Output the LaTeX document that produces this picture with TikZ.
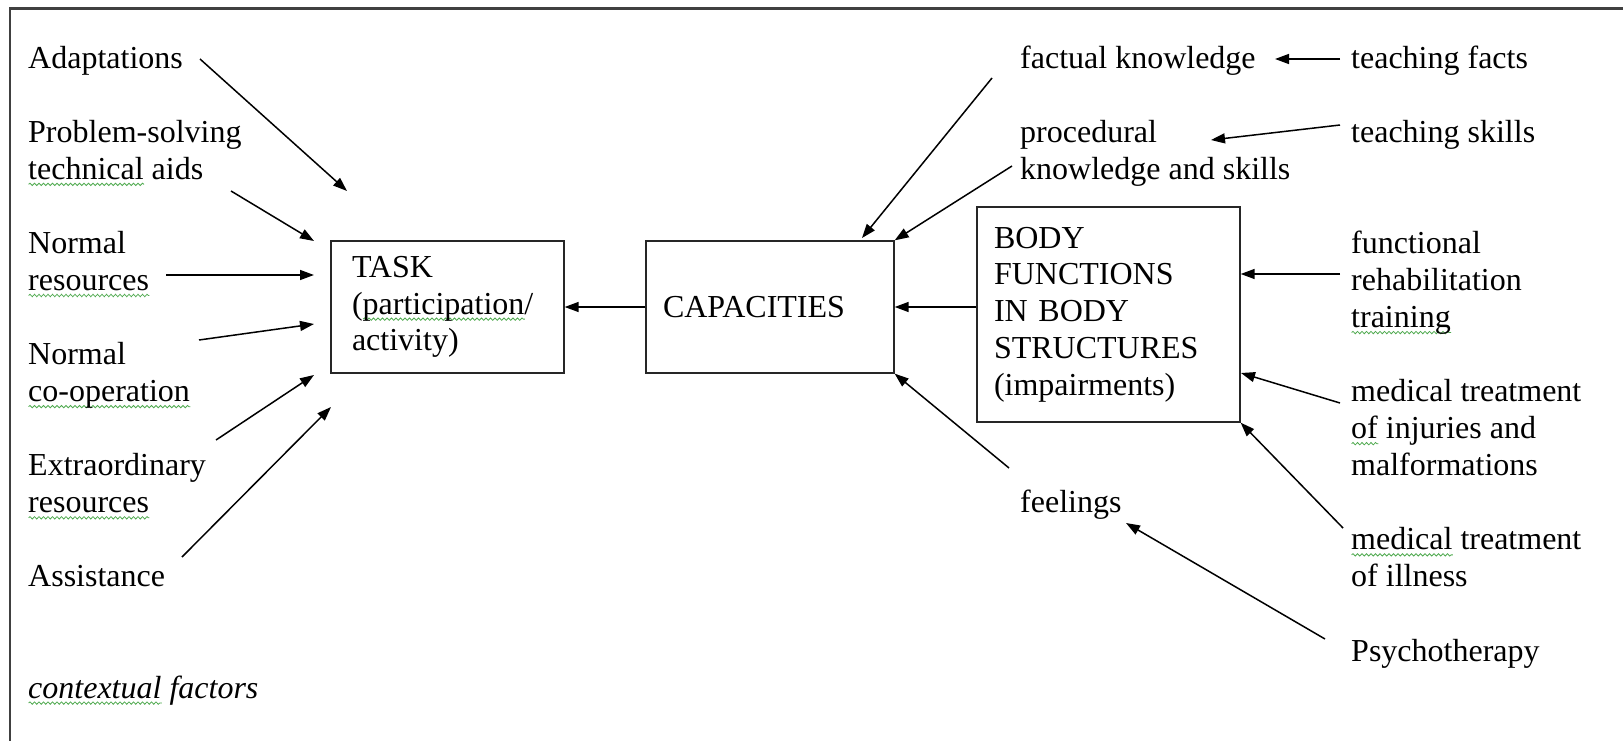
\documentclass[tikz,border=0pt]{standalone}
\usepackage{fontspec}
\setmainfont{Liberation Serif}
\usetikzlibrary{arrows.meta,decorations.pathmorphing,calc}
\newlength\wvlen
\newcommand\wv[1]{\settowidth\wvlen{#1}\rlap{\smash{\tikz[baseline=0pt]\draw[spell] (0pt,-5pt) -- (\wvlen,-5pt);}}#1}
\newcommand\fst{\rule{0pt}{26pt}}
\definecolor{spellgreen}{RGB}{80,170,80}
\tikzset{
  spell/.style={draw=spellgreen, line width=0.8pt, decorate,
    decoration={snake, amplitude=1.2pt, segment length=4.5pt}},
  lbl/.style={anchor=north west, inner sep=0pt, align=left,
    font=\fontsize{32}{37.05}\selectfont},
  box/.style={draw=black!85, line width=1.3pt, inner ysep=0pt, align=left,
    font=\fontsize{32}{36.8}\selectfont},
  arr/.style={line width=1.5pt, -{Triangle[length=14pt,width=10pt]}},
  frame/.style={draw=black!75, line width=2.5pt},
}
\begin{document}
\begin{tikzpicture}[x=1pt,y=-1pt]
\useasboundingbox (0,0) rectangle (1623,741);
\draw[frame] (10,741) -- (10,8.5) -- (1623,8.5);

% boxes
\node[box, text width=191pt, inner xsep=21pt, minimum height=132pt] (task) at (447.5,307)
  {TASK\\(\wv{participation}/\\activity)};
\node[box, text width=214pt, inner xsep=17pt, minimum height=132pt] (cap) at (770,307)
  {CAPACITIES};
\node[box, text width=229pt, inner xsep=17pt, minimum height=215pt] (body) at (1108.5,314.5)
  {BODY\\FUNCTIONS\\IN BODY\\STRUCTURES\\(impairments)};

% left labels (baseline n = 68 + 37.05 n ; node top = baseline - 26)
\node[lbl] (adapt)  at (28,42)     {\fst Adaptations};
\node[lbl] (psolv)  at (28,116.1)  {\fst Problem-solving\\\wv{technical} aids};
\node[lbl] (nres)   at (28,227.25) {\fst Normal\\\wv{resources}};
\node[lbl] (ncoop)  at (28,338.4)  {\fst Normal\\\wv{co-operation}};
\node[lbl] (eres)   at (28,449.55) {\fst Extraordinary\\\wv{resources}};
\node[lbl] (assist) at (28,560.7)  {\fst Assistance};
\node[lbl] (ctx)    at (28,671.85) {\fst \wv{\textit{contextual}} \textit{factors}};

% middle labels
\node[lbl] (fact) at (1020,42)    {\fst factual knowledge};
\node[lbl] (proc) at (1020,116.1) {\fst procedural\\knowledge and skills};
\node[lbl] (feel) at (1020,486.6) {\fst feelings};

% right labels
\node[lbl] (tfacts)  at (1351,42)     {\fst teaching facts};
\node[lbl] (tskills) at (1351,116.1)  {\fst teaching skills};
\node[lbl] (func)    at (1351,227.25) {\fst functional\\rehabilitation\\\wv{training}};
\node[lbl] (medinj)  at (1351,375.45) {\fst medical treatment\\\wv{of} injuries and\\malformations};
\node[lbl] (medill)  at (1351,523.65) {\fst \wv{medical} treatment\\of illness};
\node[lbl] (psych)   at (1351,634.8)  {\fst Psychotherapy};

% free connector ends
\coordinate (a1s) at (200,59);   \coordinate (a1e) at (347,191);
\coordinate (a2s) at (231,191);  \coordinate (a2e) at (314,241);
\coordinate (a3s) at (166,275);  \coordinate (a3e) at (314,275);
\coordinate (a4s) at (199,340);  \coordinate (a4e) at (314,324);
\coordinate (a5s) at (216,440);  \coordinate (a5e) at (314,375);
\coordinate (a6s) at (182,557);  \coordinate (a6e) at (331,407);
\coordinate (r1s) at (992,78);   \coordinate (r1e) at (862,238);
\coordinate (r2s) at (1012,166);
\coordinate (r3s) at (1340,59);  \coordinate (r3e) at (1275,59);
\coordinate (r4s) at (1340,125); \coordinate (r4e) at (1211,140);
\coordinate (r5s) at (1340,274);
\coordinate (r6s) at (1340,403); \coordinate (r6e) at (1241,373);
\coordinate (r7s) at (1343,528);
\coordinate (r8s) at (1009,468);
\coordinate (r9s) at (1325,639); \coordinate (r9e) at (1126,523);

% left arrows into TASK
\draw[arr] (a1s) -- (a1e);
\draw[arr] (a2s) -- (a2e);
\draw[arr] (a3s) -- (a3e);
\draw[arr] (a4s) -- (a4e);
\draw[arr] (a5s) -- (a5e);
\draw[arr] (a6s) -- (a6e);

% main chain
\draw[arr] (cap.west) -- (task.east);
\draw[arr] (body.west |- cap.east) -- (cap.east);

% into CAPACITIES
\draw[arr] (r1s) -- (r1e);
\draw[arr] (r2s) -- (cap.north east);
\draw[arr] (r8s) -- (cap.south east);

% right side
\draw[arr] (r3s) -- (r3e);
\draw[arr] (r4s) -- (r4e);
\draw[arr] (r5s) -- (body.east |- r5s);
\draw[arr] (r6s) -- (r6e);
\draw[arr] (r7s) -- (body.south east);
\draw[arr] (r9s) -- (r9e);
\end{tikzpicture}
\end{document}
